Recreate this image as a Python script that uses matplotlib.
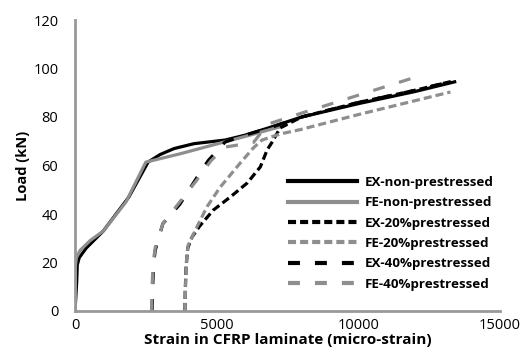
import matplotlib
matplotlib.use("Agg")
import matplotlib.pyplot as plt

# load-strain readings (strain in micro-strain, load in kN)
ex_non_strain = [0, 60, 80, 150, 400, 1000, 1900, 2580, 3000, 3500, 4200, 5300, 6000, 6800, 8000, 10000, 12000, 13400]
ex_non_load = [0, 12, 19, 22, 26, 33, 47, 61.4, 64.5, 67, 69, 70.5, 72.5, 75.4, 80, 85.5, 90.5, 94.5]

fe_non_strain = [0, 10, 50, 180, 530, 1000, 1800, 2500, 3700, 5300, 6200, 7400]
fe_non_load = [0, 18, 22, 25, 29, 33, 45, 61.4, 64.8, 69.8, 72.6, 76.5]

ex_20_strain = [3880, 3890, 3920, 3980, 4130, 4400, 4880, 5480, 6080, 6540, 6780, 6960, 7240, 8000, 10000, 12000, 13400]
ex_20_load = [0, 8, 18, 26, 30.5, 35, 41.6, 47, 52.8, 59.4, 66.4, 69.7, 75.5, 80, 86, 91, 95]

fe_20_strain = [3880, 3900, 3930, 3990, 4150, 4300, 4660, 5120, 5830, 6290, 6600, 7240, 7950, 10000, 13250]
fe_20_load = [0, 10, 20, 27, 31, 34.6, 43, 51, 61, 67.2, 70.5, 73, 74.8, 81, 90.3]

ex_40_strain = [2720, 2740, 2780, 2830, 3100, 3700, 4300, 4700, 5300, 6000, 7000, 8000, 10000, 12000, 13400]
ex_40_load = [0, 10, 20, 25, 36, 44, 55, 62, 69.7, 72.5, 76, 80, 86, 91, 95]

fe_40_strain = [2700, 2720, 2760, 2830, 3100, 3700, 4300, 4800, 5300, 6300, 6800, 8000, 11900]
fe_40_load = [0, 10, 20, 26, 36, 45, 54, 62, 67.6, 69.5, 77, 81.6, 96]

BLACK = "#000000"
GREY = "#8e8e8e"

plt.rcParams["font.family"] = ["Open Sans", "DejaVu Sans"]
plt.rcParams["lines.scale_dashes"] = False

fig = plt.figure(figsize=(5.24, 3.62), dpi=100)
ax = fig.add_axes([75 / 524, 1 - 311 / 362, 425 / 524, 291 / 362])

short_dash = (0, (5.8, 2.9))
long_dash = (0, (8.6, 10.8))
lw = 2.3

ax.plot(ex_non_strain, ex_non_load, color=BLACK, lw=lw, label="EX-non-prestressed")
ax.plot(fe_non_strain, fe_non_load, color=GREY, lw=lw, label="FE-non-prestressed")
ax.plot(ex_20_strain, ex_20_load, color=BLACK, lw=lw, linestyle=short_dash, label="EX-20%prestressed")
ax.plot(fe_20_strain, fe_20_load, color=GREY, lw=lw, linestyle=short_dash, label="FE-20%prestressed")
ax.plot(ex_40_strain, ex_40_load, color=BLACK, lw=lw, linestyle=long_dash, label="EX-40%prestressed")
ax.plot(fe_40_strain, fe_40_load, color=GREY, lw=lw, linestyle=long_dash, label="FE-40%prestressed")

ax.set_xlim(0, 15000)
ax.set_ylim(0, 120)
ax.set_xticks([0, 5000, 10000, 15000])
ax.set_yticks([0, 20, 40, 60, 80, 100, 120])
ax.tick_params(length=0, labelsize=10.5)
ax.tick_params(axis="x", pad=5)
ax.tick_params(axis="y", pad=12)

for side in ["top", "right"]:
    ax.spines[side].set_visible(False)
for side in ["left", "bottom"]:
    ax.spines[side].set_color("#989898")
    ax.spines[side].set_linewidth(2)

ax.set_xlabel("Strain in CFRP laminate (micro-strain)", fontsize=11, fontweight="bold", labelpad=0)
ax.set_ylabel("Load (kN)", fontsize=10.5, fontweight="bold", labelpad=2)

leg = ax.legend(loc="upper left", bbox_to_anchor=(288 / 524, 1 - 176 / 362),
                bbox_transform=fig.transFigure, frameon=False, borderpad=0,
                borderaxespad=0, handlelength=5.2, handletextpad=0.55,
                labelspacing=0.55, prop={"size": 9.6, "weight": "bold"})
for line in leg.get_lines():
    line.set_linewidth(3)

fig.savefig("out.png", dpi=100)
